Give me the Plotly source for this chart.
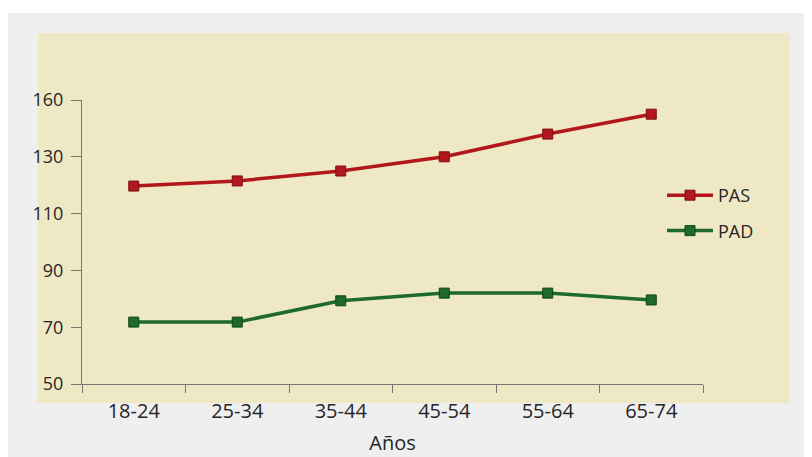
import plotly.graph_objects as go

categories = ["18-24", "25-34", "35-44", "45-54", "55-64", "65-74"]
pas = [119.7, 121.5, 125, 130, 138, 145]
pad = [71.8, 71.8, 79.3, 82, 82, 79.6]
ytick_vals = [50, 70, 90, 110, 130, 150]
ytick_text = ["50", "70", "90", "110", "130", "160"]

FONT = "Open Sans, Noto Sans, sans-serif"
TXT = "#262626"
RED, RED_D = "#b2171c", "#7a0f12"
GREEN, GREEN_D = "#1d6a2a", "#0f4418"

fig = go.Figure()
fig.add_trace(go.Scatter(
    x=categories, y=pas, name="PAS", mode="lines+markers",
    legendgroup="a",
    line=dict(color=RED, width=3.5),
    marker=dict(symbol="square", size=10, color=RED, line=dict(color=RED_D, width=1)),
))
fig.add_trace(go.Scatter(
    x=categories, y=pad, name="PAD", mode="lines+markers",
    legendgroup="b",
    line=dict(color=GREEN, width=3.5),
    marker=dict(symbol="square", size=10, color=GREEN, line=dict(color=GREEN_D, width=1)),
))

# page has an 8px body margin; figure occupies page (8..812, 8..457)
OFF = 8
PAGE_W, PAGE_H = 812, 457
W, H = PAGE_W - OFF, PAGE_H - OFF
PL, PR, PT, PB = 82, 703, 100, 384  # plot area in page pixels
L, T = PL - OFF, PT - OFF
R, B = W - (PR - OFF), H - (PB - OFF)
pw, ph = PR - PL, PB - PT

def px(x):
    return (x - PL) / pw

def py(y):
    return (PB - y) / ph

shapes = [
    dict(type="rect", xref="paper", yref="paper", x0=px(7), x1=px(811), y0=py(458), y1=py(13),
         fillcolor="#efefef", line=dict(width=0), layer="below"),
    dict(type="rect", xref="paper", yref="paper", x0=px(38), x1=px(790), y0=py(403), y1=py(33),
         fillcolor="#efe8c4", line=dict(width=0), layer="below"),
]

fig.update_layout(
    width=W, height=H,
    margin=dict(l=L, r=R, t=T, b=B, autoexpand=False),
    paper_bgcolor="white",
    plot_bgcolor="rgba(0,0,0,0)",
    font=dict(family=FONT, size=18, color=TXT),
    shapes=shapes,
    showlegend=True,
    legend=dict(x=px(662), y=py(177), xanchor="left", yanchor="top",
                bgcolor="rgba(0,0,0,0)", tracegroupgap=9, itemwidth=46,
                font=dict(family=FONT, size=18, color=TXT)),
    xaxis=dict(
        type="category", range=[-0.5, 5.5], tickson="boundaries",
        showgrid=False, zeroline=False, showline=True, linecolor="#777777", linewidth=1,
        ticks="outside", ticklen=8, tickcolor="#777777", ticklabelstandoff=9,
        tickfont=dict(family=FONT, size=20, color=TXT),
        title=dict(text="Años", font=dict(family=FONT, size=20, color=TXT), standoff=12),
    ),
    yaxis=dict(
        range=[50, 150], tickvals=ytick_vals, ticktext=ytick_text,
        showgrid=False, zeroline=False, showline=True, linecolor="#777777", linewidth=1,
        ticks="outside", ticklen=10, tickcolor="#777777", ticklabelstandoff=4,
        tickfont=dict(family=FONT, size=18, color=TXT),
    ),
)

fig.write_html("out.html")
